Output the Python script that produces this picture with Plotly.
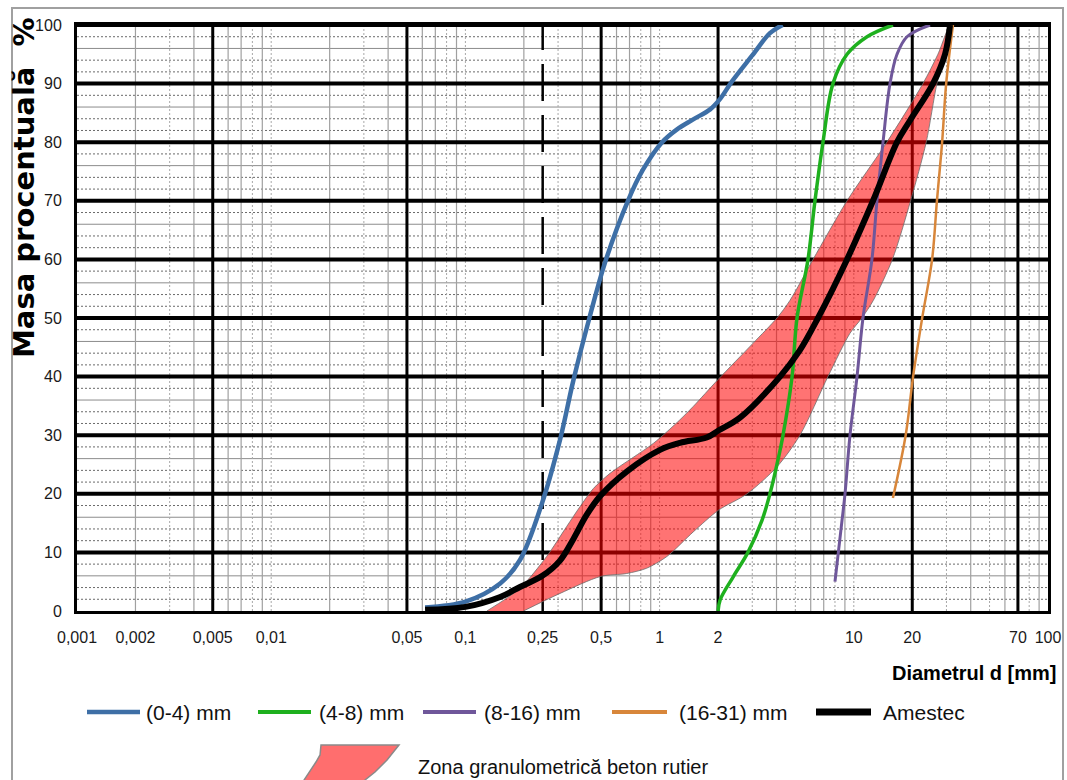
import plotly.graph_objects as go

# ---------------- data ----------------
x_tick_vals = [0.001, 0.002, 0.005, 0.01, 0.05, 0.1, 0.25, 0.5, 1, 2, 10, 20, 70, 100]
x_tick_text = ["0,001", "0,002", "0,005", "0,01", "0,05", "0,1", "0,25", "0,5", "1", "2", "10", "20", "70", "100"]
y_tick_vals = [0, 10, 20, 30, 40, 50, 60, 70, 80, 90, 100]

# (0-4) mm
d_0_4 = [0.062, 0.1, 0.151, 0.191, 0.248, 0.307, 0.36, 0.435, 0.524, 0.687, 0.821, 1.03, 1.23,
         1.49, 1.82, 2.05, 2.35, 3.0, 3.7, 4.3]
p_0_4 = [0.6, 1.6, 4.7, 8.7, 18.4, 29.2, 39.4, 50, 59.5, 70, 75.3, 80, 82.2, 83.9, 85.6, 87.4,
         90.3, 94.8, 98.6, 100]

# (4-8) mm
d_4_8 = [2.0, 2.05, 2.39, 2.85, 3.37, 3.70, 4.07, 4.32, 4.81, 5.10, 5.81, 6.31, 6.94, 7.81,
         9.23, 11.7, 15.9]
p_4_8 = [0, 1.9, 5.8, 10, 15.5, 20, 25.8, 30, 40, 50, 60, 70, 80, 90, 95, 98, 100]

# (8-16) mm
d_8_16 = [8.0, 8.7, 9.01, 9.56, 10.39, 11.15, 12.4, 13.16, 14.14, 15.36, 16.69, 18.79, 24.7]
p_8_16 = [5, 15.5, 20, 30, 40, 50, 60, 70, 80, 90, 95, 98, 100]

# (16-31) mm
d_16_31 = [15.9, 18.5, 20.2, 22.5, 25.3, 26.8, 28.5, 29.9, 32.4]
p_16_31 = [19.3, 30, 40, 50, 60, 70, 80, 90, 100]

# Amestec
d_mix = [0.062, 0.1, 0.151, 0.191, 0.249, 0.307, 0.36, 0.421, 0.497, 0.677, 1.005, 1.274, 1.748,
         2.01, 2.594, 4.17, 5.28, 6.54, 9.23, 12.56, 16.69, 19.47, 25.57, 29.49, 31.3]
p_mix = [0.2, 0.7, 2.4, 4.1, 6.0, 8.6, 12.3, 16.4, 19.7, 23.8, 27.5, 28.7, 29.6, 30.8, 33, 40,
         44.5, 50, 60, 70, 80, 83.7, 90, 95, 100]

# Zona granulometrica - limits
zone_up_d = [0.129, 0.191, 0.262, 0.332, 0.389, 0.456, 0.556, 0.928, 1.27, 1.49, 2.0, 3.03, 4.02,
             4.69, 6.17, 9.23, 14.8, 22.7, 27.1, 31.3]
zone_up_p = [0, 3.9, 9.3, 14.4, 17.8, 20.9, 23.5, 28.6, 32.6, 34.9, 39.5, 45.7, 50, 53, 60, 70,
             80, 90, 95, 100]
zone_lo_d = [0.199, 0.307, 0.497, 0.677, 0.858, 1.09, 1.49, 2.01, 2.82, 4.02, 5.28, 7.36, 9.56,
             11.0, 12.6, 15.8, 19.6, 23.6, 26.8, 29.5, 32.0]
zone_lo_p = [0, 3, 5.9, 6.4, 7.3, 9.3, 13.5, 17.2, 20, 24.6, 30, 40, 47.4, 50, 53, 60, 70, 80,
             90, 95, 100]

# grid definition
grid_thick_x = [0.005, 0.05, 0.5, 2, 20, 70]
grid_dashed_x = [0.25]
grid_thick_y = [10, 20, 30, 40, 50, 60, 70, 80, 90, 100]
grid_minor_mult_solid = [2, 4, 6, 7, 9]
grid_minor_mult_dot = [1, 3, 5, 8]
grid_minor_y_solid_offsets = [6]
grid_minor_y_dot_offsets = [2, 4, 8]

X_MIN, X_MAX = 0.001, 100
Y_MIN, Y_MAX = 0, 100

decades = [0.001, 0.01, 0.1, 1, 10]


def minor_vals(mults):
    out = []
    for dec in decades:
        for m in mults:
            v = round(m * dec, 6)
            if v in grid_thick_x or v <= X_MIN or v >= X_MAX:
                continue
            out.append(v)
    return out


def vsegs(vals):
    xs, ys = [], []
    for v in vals:
        xs += [v, v, None]
        ys += [Y_MIN, Y_MAX, None]
    return xs, ys


def hsegs(vals):
    xs, ys = [], []
    for v in vals:
        xs += [X_MIN, X_MAX, None]
        ys += [v, v, None]
    return xs, ys


fig = go.Figure()


def grid_trace(xs, ys, color, width, dash="solid"):
    fig.add_trace(go.Scatter(x=xs, y=ys, mode="lines", line=dict(color=color, width=width, dash=dash),
                             hoverinfo="skip", showlegend=False))


# minor grid
hy_solid = [d + o for d in range(0, 100, 10) for o in grid_minor_y_solid_offsets]
hy_dot = [d + o for d in range(0, 100, 10) for o in grid_minor_y_dot_offsets]
grid_trace(*hsegs(hy_dot), "#6a6a6a", 1, "2px,2px")
grid_trace(*hsegs(hy_solid), "#8c8c8c", 1)
grid_trace(*vsegs(minor_vals(grid_minor_mult_dot)), "#a8a8a8", 1, "2px,2px")
grid_trace(*vsegs(minor_vals(grid_minor_mult_solid)), "#a0a0a0", 1.2)
# major grid
grid_trace(*hsegs(grid_thick_y), "#000000", 4)
grid_trace(*vsegs(grid_thick_x), "#000000", 3)
grid_trace(*vsegs(grid_dashed_x), "#000000", 2.5, "37px,14px")

# zone band
band_x = zone_up_d + zone_lo_d[::-1]
band_y = zone_up_p + zone_lo_p[::-1]
fig.add_trace(go.Scatter(x=band_x, y=band_y, mode="lines", fill="toself",
                         fillcolor="rgba(255,0,0,0.55)",
                         line=dict(color="rgba(110,110,110,0.8)", width=1, shape="spline", smoothing=0.8),
                         hoverinfo="skip", showlegend=False))

series = [
    (d_0_4, p_0_4, "#3E6FA6", 4.5),
    (d_4_8, p_4_8, "#1EB01E", 3.5),
    (d_8_16, p_8_16, "#6F579A", 3),
    (d_16_31, p_16_31, "#D8863A", 2.5),
    (d_mix, p_mix, "#000000", 6),
]
for xs, ys, col, w in series:
    fig.add_trace(go.Scatter(x=xs, y=ys, mode="lines",
                             line=dict(color=col, width=w, shape="spline", smoothing=1.0),
                             hoverinfo="skip", showlegend=False))

# ---------------- layout ----------------
W, H = 1067, 780
ML, MR, MT, MB = 77, 19, 25, 169
PW, PH = W - ML - MR, H - MT - MB


def px(xp):
    return (xp - ML) / PW


def py(yp):
    return (H - MB - yp) / PH


FONT = "Liberation Sans, Arial, sans-serif"
tick_font = dict(family=FONT, size=16, color="#1a1a1a")
legend_font = dict(family=FONT, size=21, color="#111111")

fig.update_layout(
    width=W, height=H,
    margin=dict(l=ML, r=MR, t=MT, b=MB, pad=0, autoexpand=False),
    paper_bgcolor="white", plot_bgcolor="white",
    showlegend=False,
    xaxis=dict(type="log", range=[-3, 2], showgrid=False, zeroline=False, automargin=False,
               tickvals=x_tick_vals, ticktext=x_tick_text, ticks="", ticklabelstandoff=10,
               tickfont=tick_font, showline=True, mirror=True, linecolor="black", linewidth=3),
    yaxis=dict(range=[0, 100], showgrid=False, zeroline=False, automargin=False,
               tickvals=y_tick_vals, ticks="", ticklabelstandoff=9, tickfont=tick_font,
               showline=True, mirror=True, linecolor="black", linewidth=3),
)

shapes = []
# outer gray frame
shapes.append(dict(type="rect", xref="paper", yref="paper", x0=px(12), x1=px(1063), y0=py(795), y1=py(8),
                   line=dict(color="#a0a0a0", width=2), fillcolor="rgba(0,0,0,0)", layer="below"))

annotations = []
# legend row 1
legend_items = [
    ("(0-4) mm", "#3E6FA6", 87, 140, 144, 4.5),
    ("(4-8) mm", "#1EB01E", 258, 311, 317, 4),
    ("(8-16) mm", "#6F579A", 423, 476, 482, 4),
    ("(16-31) mm", "#D8863A", 612, 667, 677, 4),
    ("Amestec", "#000000", 816, 871, 881, 7),
]
ly = 712
for label, col, x0, x1, xt, w in legend_items:
    shapes.append(dict(type="line", xref="paper", yref="paper", x0=px(x0), x1=px(x1), y0=py(ly), y1=py(ly),
                       line=dict(color=col, width=w)))
    annotations.append(dict(xref="paper", yref="paper", x=px(xt), y=py(ly), text=label, showarrow=False,
                            xanchor="left", yanchor="middle", font=legend_font))

# legend row 2 - zone symbol
zone_sym = [(321, 745), (399, 745), (387, 760), (375, 772), (365, 780), (358, 792),
            (298, 792), (304, 780), (316, 762), (320, 755)]
path = "M " + " L ".join(f"{px(a):.4f},{py(b):.4f}" for a, b in zone_sym) + " Z"
shapes.append(dict(type="path", xref="paper", yref="paper", path=path,
                   fillcolor="rgba(255,110,110,1)", line=dict(color="#8a8a8a", width=1.5)))
annotations.append(dict(xref="paper", yref="paper", x=px(416), y=py(767),
                        text="Zona granulometrică beton rutier", showarrow=False,
                        xanchor="left", yanchor="middle", font=dict(family=FONT, size=20, color="#111111")))

# axis titles
annotations.append(dict(xref="paper", yref="paper", x=px(1058), y=py(673), text="Diametrul d [mm]",
                        showarrow=False, xanchor="right", yanchor="middle",
                        font=dict(family=FONT, size=20, color="#000000", weight="bold")))
annotations.append(dict(xref="paper", yref="paper", x=px(24), y=py(188), text="Masa procentuală  %",
                        showarrow=False, textangle=-90, xanchor="center", yanchor="middle",
                        font=dict(family="DejaVu Sans, Arial, sans-serif", size=29, color="#000000",
                                  weight="bold")))

fig.update_layout(shapes=shapes, annotations=annotations)

fig.write_html("out.html",
               config={"displayModeBar": False, "staticPlot": True},
               post_script="document.body.style.margin='0';document.body.style.padding='0';"
                           "document.body.style.overflow='hidden';")
